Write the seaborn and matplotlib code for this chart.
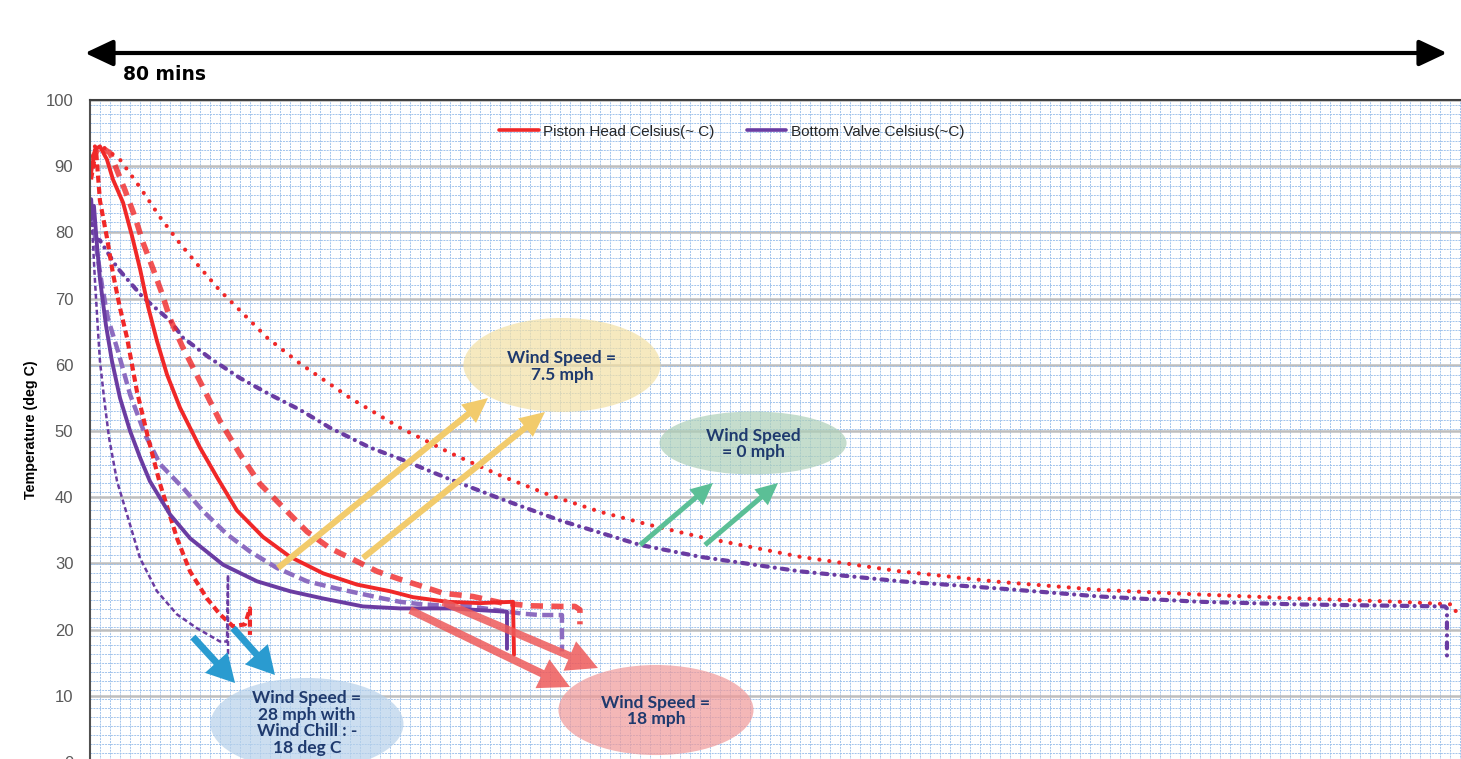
import numpy as np
import pandas as pd
import matplotlib
matplotlib.use("Agg")
import matplotlib.pyplot as plt
import seaborn as sns
from matplotlib.patches import Ellipse
from matplotlib.lines import Line2D
from matplotlib.ticker import MultipleLocator

# ---------------- data (minutes, deg C) ----------------
red_solid_t = [0.06, 0.29, 0.58, 0.99, 1.34, 1.93, 2.45, 2.92, 3.39, 3.91, 4.50, 5.26, 6.42, 7.42,
               8.58, 10.10, 11.68, 13.61, 15.59, 17.52, 18.86, 20.85, 22.77, 24.70, 24.76]
red_solid_v = [89, 92.5, 93, 91, 88, 84.5, 79.5, 74.5, 68.8, 63.6, 58.5, 53.5, 47.5, 43,
               38, 34, 31, 28.5, 26.8, 25.8, 24.9, 24.2, 24, 24.2, 16.2]

red_long_t = [0.06, 0.58, 1.17, 2.04, 2.63, 3.09, 3.68, 4.20, 4.67, 5.37, 6.42, 7.59, 8.76, 9.93,
              10.92, 11.68, 12.67, 14.01, 15.36, 16.76, 18.10, 19.44, 20.61, 22.36, 24.12, 25.69,
              27.44, 28.32, 28.61, 28.61]
red_long_v = [91, 93, 92, 86.4, 82.3, 78.5, 74.5, 70.8, 67, 62.9, 57.5, 51.5, 46.5, 42,
              39.4, 37.4, 34.8, 32.3, 30.6, 28.8, 27.6, 26.5, 25.5, 25, 24, 23.6,
              23.5, 23.5, 23, 20.8]

red_short_t = [0.06, 0.35, 0.58, 0.99, 1.34, 1.75, 2.16, 2.74, 3.39, 4.09, 5.08, 5.84, 6.83, 7.59,
               8.35, 9.05, 9.34, 9.34]
red_short_v = [88, 92.5, 84.8, 79.2, 73.8, 68.6, 64.1, 56, 49, 42, 33.8, 28.8, 24.7, 22.3,
               20.5, 20.8, 23.2, 19.2]

red_dot_t = [0.06, 0.29, 0.76, 1.75, 2.92, 4.09, 5.26, 6.42, 7.59, 8.76, 10.34, 12.26, 15.18, 18.10,
             21.02, 23.94, 26.86, 29.78, 32.70, 35.62, 41.46, 47.30, 53.13, 58.97, 64.81, 70.65,
             76.49, 79.59, 79.88]
red_dot_v = [90, 93, 92.9, 91, 86.8, 82.3, 78.3, 74.7, 71.2, 68.2, 64.1, 60.2, 55, 50.5,
             46.7, 43.3, 40.3, 37.8, 35.8, 34, 31, 28.8, 27.2, 26, 25.3, 24.7,
             24.2, 23.8, 22.0]

pur_solid_t = [0.06, 0.23, 0.41, 0.58, 0.93, 1.28, 1.75, 2.34, 2.92, 3.50, 4.67, 5.84, 7.77, 9.75,
               11.68, 13.61, 15.94, 18.10, 21.02, 24.35, 24.35]
pur_solid_v = [82, 84, 78, 73, 66, 60.6, 55, 50, 46, 42.4, 37.4, 33.8, 29.8, 27.3,
               25.8, 24.7, 23.5, 23.2, 23.2, 22.7, 17.1]

pur_thin_t = [0.06, 0.18, 0.29, 0.47, 0.58, 0.82, 1.11, 1.58, 2.16, 2.92, 3.91, 5.08, 6.25, 7.59,
              8.00, 8.06, 8.06]
pur_thin_v = [84, 78, 72.7, 65, 60.6, 55, 49, 42.4, 37.4, 30.8, 25.8, 22.3, 20.2, 18.2,
              18.2, 28.3, 15.6]

pur_long_t = [0.12, 0.35, 0.70, 1.05, 1.64, 2.34, 3.21, 4.09, 5.43, 6.60, 8.00, 9.34, 10.92, 12.67,
              14.42, 17.11, 18.10, 19.44, 22.19, 25.28, 26.28, 27.56, 27.56]
pur_long_v = [83, 78, 72, 67, 62, 55.5, 49.5, 45, 41.4, 37.9, 34.4, 31.8, 29.3, 27.3,
              26.2, 24.7, 24.2, 23.8, 23.5, 22.4, 22.2, 22.2, 16.7]

pur_dd_t = [0.06, 0.18, 0.35, 0.58, 1.58, 3.09, 4.67, 5.43, 7.01, 8.76, 10.51, 12.26, 14.01, 16.35,
            18.10, 21.02, 23.94, 27.44, 32.11, 35.62, 41.46, 47.30, 53.13, 58.97, 64.81, 70.65,
            79.12, 79.24, 79.24]
pur_dd_v = [85, 80, 79, 78.8, 74.7, 70.2, 66.7, 64.1, 61, 58, 55.5, 53.2, 50.5, 47.5,
            45.8, 42.7, 39.8, 36.5, 32.8, 31, 28.8, 27.3, 26.2, 25, 24.2, 23.8,
            23.5, 23.2, 15.6]

legend_labels = ["Piston Head Celsius(~ C)", "Bottom Valve Celsius(~C)"]
y_ticks = [0, 10, 20, 30, 40, 50, 60, 70, 80, 90, 100]

RED = "#F02828"
PURPLE = "#6A3CA2"
LPURPLE = "#8C6CC0"
NAVY = "#1F3A6E"

# ---------------- figure ----------------
sns.set_theme(style="white")
plt.rcParams['font.family'] = ['Liberation Sans', 'DejaVu Sans']

W, H = 1461, 759
fig = plt.figure(figsize=(W / 100, H / 100), dpi=100)
ax = fig.add_axes([90 / W, (H - 762) / H, (W - 90) / W, 662 / H])
ax.set_xlim(0, 80.06)
ax.set_ylim(0, 100)

# grid
ax.set_yticks(y_ticks)
ax.set_xticks([])
ax.yaxis.set_minor_locator(MultipleLocator(1.36))
ax.xaxis.set_minor_locator(MultipleLocator(0.584))
ax.grid(which='minor', axis='both', color='#A2C4EC', lw=0.7, ls=(0, (2, 1)))
ax.grid(which='major', axis='y', color='#BEBEBE', lw=1.8)
ax.set_axisbelow(True)
ax.tick_params(which='minor', length=0)
ax.tick_params(axis='y', which='major', length=0, pad=12, labelsize=12, labelcolor='#595959')
ax.tick_params(axis='x', which='both', length=0, labelbottom=False)
for s in ['right', 'bottom']:
    ax.spines[s].set_visible(False)
ax.spines['left'].set_color('#505050')
ax.spines['left'].set_linewidth(1.5)
ax.spines['top'].set_color('#404040')
ax.spines['top'].set_linewidth(1.5)

common = dict(ax=ax, sort=False, estimator=None, legend=False)
sns.lineplot(x=red_dot_t, y=red_dot_v, color=RED, lw=3, linestyle=(0, (0.01, 2.4)),
             dash_capstyle='round', **common)
sns.lineplot(x=pur_dd_t, y=pur_dd_v, color=PURPLE, lw=3, linestyle=(0, (1.4, 1.7, 0.01, 1.7)),
             dash_capstyle='round', **common)
sns.lineplot(x=red_long_t, y=red_long_v, color=RED, lw=4, alpha=0.8, linestyle=(0, (2.2, 1.5)), **common)
sns.lineplot(x=pur_long_t, y=pur_long_v, color=LPURPLE, lw=3.2, linestyle=(0, (2.5, 1.2)), **common)
sns.lineplot(x=red_short_t, y=red_short_v, color=RED, lw=3, linestyle=(0, (1.7, 1.0)), **common)
sns.lineplot(x=pur_thin_t, y=pur_thin_v, color=PURPLE, lw=1.8, linestyle=(0, (2.0, 1.2)), **common)
sns.lineplot(x=red_solid_t, y=red_solid_v, color=RED, lw=2.8, **common)
sns.lineplot(x=pur_solid_t, y=pur_solid_v, color=PURPLE, lw=2.8, **common)

# legend
handles = [Line2D([], [], color=RED, lw=2.6), Line2D([], [], color=PURPLE, lw=2.6)]
leg = ax.legend(handles, legend_labels, loc='center', bbox_to_anchor=(0.468, 0.952), ncol=2,
                frameon=False, fontsize=11, handlelength=2.6, handletextpad=0.3, columnspacing=2.1)
for t in leg.get_texts():
    t.set_color('#262626')

# y label
ax.set_ylabel("Temperature (deg C)", fontsize=10.3, fontweight='bold', color='black')
ax.yaxis.set_label_coords(-0.0379, 0.5015)

# ellipses with labels
ellipses = [
    (27.56, 59.97, 11.50, 14.2, '#F3E0A4', "Wind Speed =\n7.5 mph", 59.75),
    (38.72, 48.19, 10.92, 9.52, '#ADCFB8', "Wind Speed\n= 0 mph", 48.04),
    (12.67, 5.74, 11.27, 13.9, '#B7D1EA', "Wind Speed =\n28 mph with\nWind Chill : -\n18 deg C", 5.9),
    (33.05, 7.85, 11.39, 13.6, '#F09999', "Wind Speed =\n18 mph", 7.7),
]
for cx, cy, w, h, col, txt, ty in ellipses:
    ax.add_patch(Ellipse((cx, cy), w, h, facecolor=col, edgecolor='none', alpha=0.7, zorder=5))
    ax.text(cx, ty, txt, ha='center', va='center', fontsize=12.5, fontweight='bold', color=NAVY,
            family=['Lato', 'DejaVu Sans'], linespacing=1.05, zorder=6)

# arrows
arrows = [
    ((10.98, 29.31), (23.24, 54.98), '#F2CB6C', 0.22, 0.85, 0.9, 1.0),
    ((15.94, 30.82), (26.57, 52.87), '#F2CB6C', 0.22, 0.85, 0.9, 1.0),
    ((32.12, 32.78), (36.38, 42.15), '#5BBF96', 0.18, 0.75, 0.8, 1.0),
    ((35.91, 32.78), (40.18, 42.15), '#5BBF96', 0.18, 0.75, 0.8, 1.0),
    ((6.01, 18.88), (8.47, 11.93), '#2A9BD0', 0.25, 1.1, 1.0, 1.0),
    ((8.35, 20.24), (10.80, 13.14), '#2A9BD0', 0.25, 1.1, 1.0, 1.0),
    ((18.69, 22.96), (28.03, 11.33), '#EE5A5A', 0.28, 1.15, 1.1, 0.85),
    ((20.61, 24.17), (29.66, 14.20), '#EE5A5A', 0.28, 1.15, 1.1, 0.85),
]
for (x0, y0), (x1, y1), col, tw, hw, hl, al in arrows:
    ax.annotate('', xy=(x1, y1), xytext=(x0, y0), zorder=4,
                arrowprops=dict(arrowstyle=f'simple,head_length={hl},head_width={hw},tail_width={tw}',
                                mutation_scale=20, color=col, alpha=al, shrinkA=0, shrinkB=0, lw=0))

# top double arrow and label
fig.patches.append(matplotlib.patches.FancyArrowPatch(
    (85 / W, 1 - 53 / H), (1447 / W, 1 - 53 / H), transform=fig.transFigure,
    arrowstyle='<|-|>,head_length=0.85,head_width=0.4', mutation_scale=20,
    color='black', lw=3, shrinkA=0, shrinkB=0))
fig.text(123 / W, 1 - 75 / H, "80 mins", fontsize=13.5, fontweight='bold', family='DejaVu Sans',
         ha='left', va='center', color='black')

fig.savefig("out.png", dpi=100)
